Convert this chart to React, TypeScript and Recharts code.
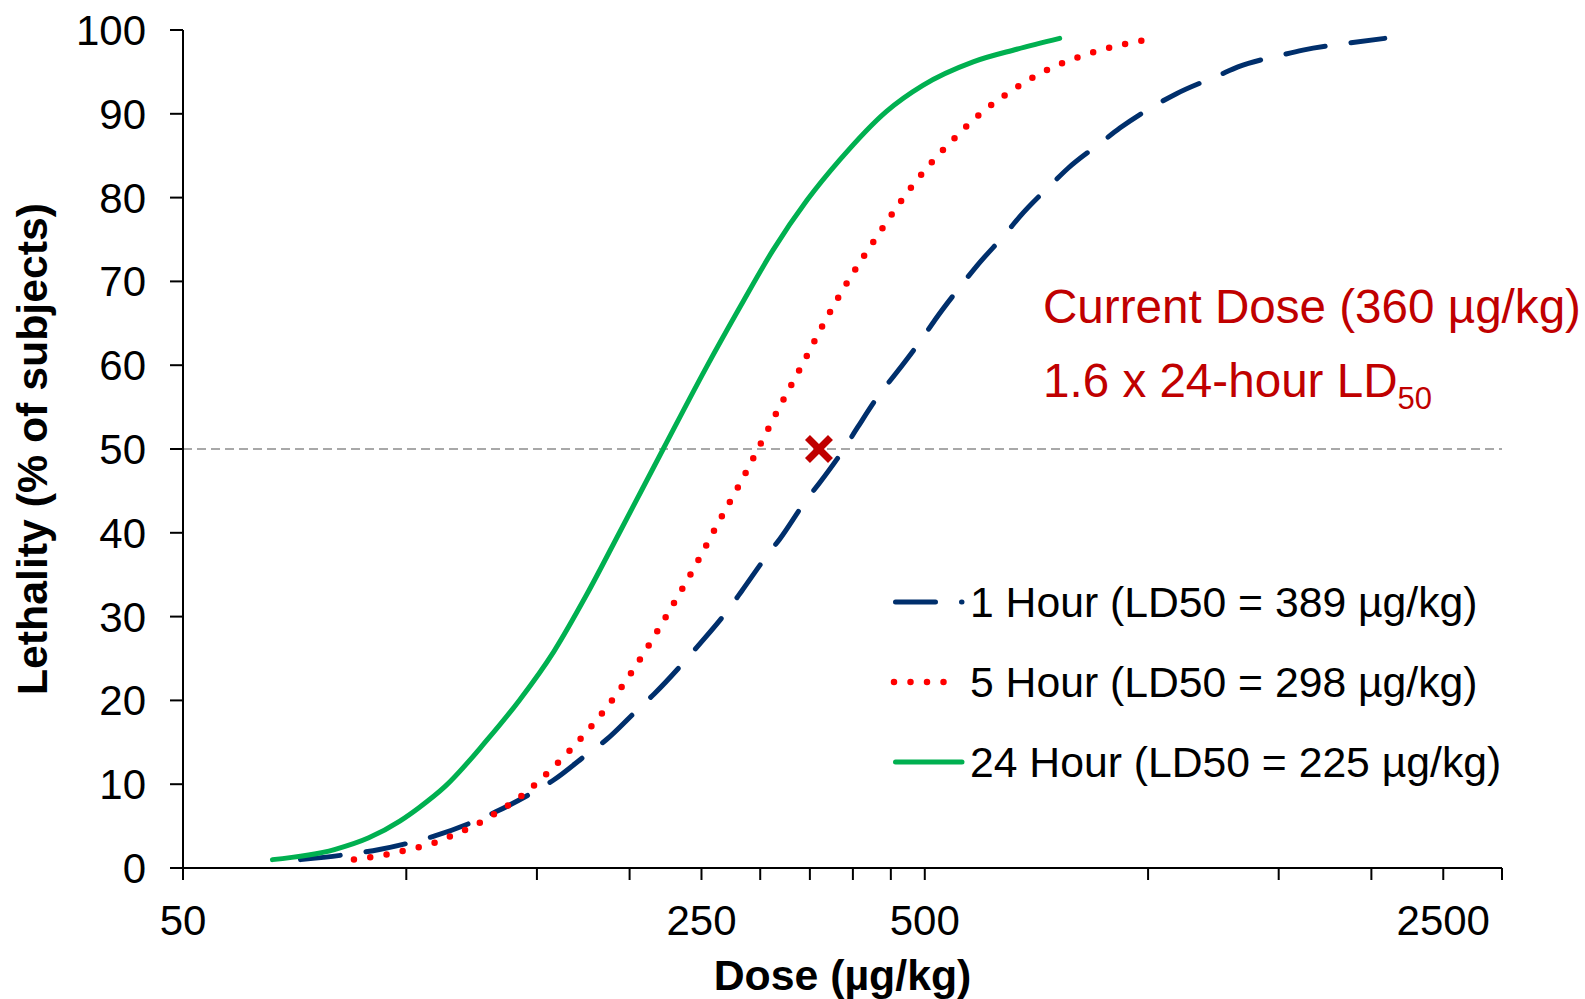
import { ComposedChart, Label, Line, ReferenceLine, Scatter, XAxis, YAxis } from "recharts";

const FONT = '"Liberation Sans", Arial, Helvetica, sans-serif';

// dose axis (log), µg/kg
const DOSE_TICKS = [50, 100, 150, 200, 250, 300, 350, 400, 450, 500, 1000, 1500, 2000, 2500, 3000];
const DOSE_LABELS = [50, 250, 500, 2500];
const LETHALITY_TICKS = [0, 10, 20, 30, 40, 50, 60, 70, 80, 90, 100];

// 1 hour curve
const DOSE_1H = [72, 83, 92, 101, 109, 123, 132, 148, 158, 176, 186, 205, 216, 238, 249, 272, 283, 307, 319, 346, 361, 389, 406, 435, 457, 497, 516, 563, 587, 644, 671, 743, 780, 868, 916, 1031, 1092, 1246, 1322, 1512, 1617, 1850, 2085];
const LETH_1H = [1, 1.6, 2.2, 3, 3.8, 5.5, 6.7, 9, 10.5, 13.7, 15.3, 18.9, 20.8, 24.8, 26.8, 30.9, 33, 37.4, 39.3, 43.9, 46, 50, 52.6, 56.6, 59, 63.3, 65.4, 69.8, 71.8, 75.8, 77.7, 81.7, 83.5, 86.7, 88.3, 91.2, 92.4, 94.6, 95.6, 97, 97.6, 98.4, 99];

// 5 hour curve
const DOSE_5H = [85, 94, 103, 109, 114, 125, 130, 142, 159, 176, 193, 210, 227, 245, 263, 283, 298, 318, 341, 366, 395, 429, 481, 513, 550, 592, 641, 698, 764, 841, 928, 1024];
const LETH_5H = [1, 1.6, 2.4, 3, 3.7, 5.3, 6.2, 8.4, 12.3, 16.5, 21, 25.9, 30.9, 36, 41.1, 46.2, 50, 54.9, 59.9, 65.1, 70.2, 75.1, 81.4, 84.4, 87.2, 89.9, 92.2, 94.3, 96, 97.3, 98.3, 99];

// 24 hour curve
const DOSE_24H = [66, 80, 89, 98, 104, 113, 128, 142, 158, 175, 194, 222, 254, 282, 312, 347, 384, 444, 497, 581, 665, 760];
const LETH_24H = [1, 2.2, 3.6, 5.6, 7.2, 9.8, 15.1, 20, 25.8, 32.6, 40.1, 50, 59.8, 67, 73.7, 79.7, 84.5, 90.3, 93.4, 96.2, 97.7, 99];

const CURRENT_DOSE = [360];
const CURRENT_LETH = [50];

const toPoints = (doses: number[], vals: number[]) => doses.map((d, i) => ({ dose: d, lethality: vals[i] }));

const SERIES = [
  { name: "1 Hour (LD50 = 389 µg/kg)", color: "#002F6C", dash: "40 26", width: 5, data: toPoints(DOSE_1H, LETH_1H) },
  { name: "5 Hour (LD50 = 298 µg/kg)", color: "#FF0000", dash: "0 16.5", width: 6.5, data: toPoints(DOSE_5H, LETH_5H) },
  { name: "24 Hour (LD50 = 225 µg/kg)", color: "#00B050", dash: undefined, width: 5, data: toPoints(DOSE_24H, LETH_24H) },
];

const CrossMark = (props: any) => {
  const { cx, cy } = props;
  const r = 11.5;
  return (
    <g>
      <line x1={cx - r} y1={cy - r} x2={cx + r} y2={cy + r} stroke="#C00000" strokeWidth={7} />
      <line x1={cx - r} y1={cy + r} x2={cx + r} y2={cy - r} stroke="#C00000" strokeWidth={7} />
    </g>
  );
};

const XTitle = (props: any) => {
  const vb = props.viewBox || {};
  return (
    <text x={vb.x + vb.width / 2} y={990} textAnchor="middle" fontFamily={FONT} fontSize={42.8} fontWeight="bold" fill="#000">
      Dose (µg/kg)
    </text>
  );
};

const YTitle = (props: any) => {
  const vb = props.viewBox || {};
  const cx = 47;
  const cy = vb.y + vb.height / 2;
  return (
    <text x={cx} y={cy} transform={`rotate(-90 ${cx} ${cy})`} textAnchor="middle" fontFamily={FONT} fontSize={42.8} fontWeight="bold" fill="#000">
      Lethality (% of subjects)
    </text>
  );
};

export default function App() {
  const rowY = [602, 682, 762];
  return (
    <div style={{ position: "absolute", left: 0, top: 0, width: 1585, height: 999, background: "#fff", overflow: "hidden" }}>
      <ComposedChart width={1585} height={999} margin={{ top: 30, right: 83, bottom: 0, left: 0 }}>
        <XAxis
          dataKey="dose"
          type="number"
          scale="log"
          domain={[50, 3000]}
          allowDataOverflow
          ticks={DOSE_TICKS}
          interval={0}
          tickFormatter={(v: number) => (DOSE_LABELS.includes(v) ? String(v) : "")}
          height={131}
          tickSize={12}
          tickMargin={25}
          axisLine={{ stroke: "#000", strokeWidth: 2 }}
          tickLine={{ stroke: "#000", strokeWidth: 2 }}
          tick={{ fill: "#000", fontSize: 42, fontFamily: FONT }}
        >
          <Label content={XTitle} />
        </XAxis>
        <YAxis
          dataKey="lethality"
          type="number"
          domain={[0, 100]}
          ticks={LETHALITY_TICKS}
          interval={0}
          width={183}
          tickSize={13}
          tickMargin={24}
          axisLine={{ stroke: "#000", strokeWidth: 2 }}
          tickLine={{ stroke: "#000", strokeWidth: 2 }}
          tick={{ fill: "#000", fontSize: 42, fontFamily: FONT }}
        >
          <Label content={YTitle} />
        </YAxis>
        <ReferenceLine y={50} stroke="#8C8C8C" strokeWidth={1.5} strokeDasharray="9 5" />
        {SERIES.map((s) => (
          <Line
            key={s.name}
            data={s.data}
            dataKey="lethality"
            name={s.name}
            type="monotone"
            stroke={s.color}
            strokeWidth={s.width}
            strokeDasharray={s.dash}
            strokeLinecap="round"
            dot={false}
            activeDot={false}
            isAnimationActive={false}
          />
        ))}
        <Scatter
          data={toPoints(CURRENT_DOSE, CURRENT_LETH)}
          dataKey="lethality"
          shape={CrossMark}
          isAnimationActive={false}
        />
      </ComposedChart>
      <svg width={1585} height={999} style={{ position: "absolute", left: 0, top: 0, pointerEvents: "none" }}>
        <text x={1043} y={323} fontFamily={FONT} fontSize={47.6} fill="#C00000">
          Current Dose (360 µg/kg)
        </text>
        <text x={1043} y={397} fontFamily={FONT} fontSize={47.6} fill="#C00000">
          1.6 x 24-hour LD<tspan fontSize={31} dy={12}>50</tspan>
        </text>
        {SERIES.map((s, i) => (
          <g key={s.name}>
            <line
              x1={s.dash === "0 16.5" ? 894 : 895.5}
              x2={s.dash === "0 16.5" ? 960 : 962}
              y1={rowY[i]}
              y2={rowY[i]}
              stroke={s.color}
              strokeWidth={s.width}
              strokeDasharray={s.dash}
              strokeLinecap="round"
            />
            <text x={970} y={rowY[i] + 15} fontFamily={FONT} fontSize={42.7} fill="#000">
              {s.name}
            </text>
          </g>
        ))}
      </svg>
    </div>
  );
}
